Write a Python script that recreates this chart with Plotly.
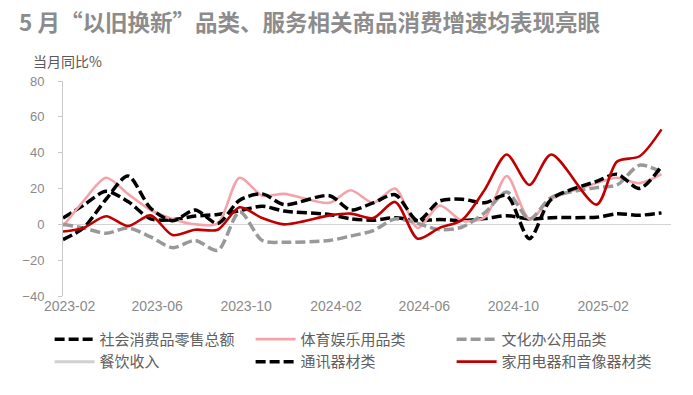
import plotly.graph_objects as go

months = ["2023-02", "2023-03", "2023-04", "2023-05", "2023-06", "2023-07", "2023-08",
          "2023-09", "2023-10", "2023-11", "2023-12",
          "2024-02", "2024-03", "2024-04", "2024-05", "2024-06", "2024-07", "2024-08",
          "2024-09", "2024-10", "2024-11", "2024-12",
          "2025-02", "2025-03", "2025-04", "2025-05"]

retail_total = [3.5, 10.6, 18.4, 12.7, 3.1, 2.5, 4.6, 5.5, 7.6, 10.1, 7.4,
                5.5, 3.1, 2.3, 3.7, 2.0, 2.7, 2.1, 3.2, 4.8, 3.0, 3.7,
                4.0, 5.9, 5.1, 6.4]
sports = [-1, 13, 26, 17, 8, 3, 0, 0.5, 26, 16, 17,
          12, 19, 12, 20, -2, 10.5, 2, 4, 27, 3, 14,
          23, 26, 23, 28]
office = [0, -2, -5, -2, -7, -13, -9, -14.5, 7, -9, -10,
          -9, -6.5, -3.5, 3, 0.5, -3, -1.5, 6.5, 18, 3, 15,
          20.5, 22, 33, 29]
catering = [None] * 26
telecom = [-8.5, -2, 14, 27, 9, 2, 8, 0.5, 13.5, 17, 11,
           16, 8, 12, 16.5, 2, 13, 14, 12, 16, -8, 14,
           24, 28, 20, 32.5]
appliance = [-4, -2, 4.5, -1, 5, -6, -3, -3, 9.5, 3.5, 0,
             5, 6, 3.5, 12.5, -8, -2, 2.5, 19.5, 39, 22, 39,
             11, 35, 38, 53]

tick_labels = ["2023-02", "2023-06", "2023-10", "2024-02", "2024-06", "2024-10", "2025-02"]

x_dates = [m + "-01" for m in months]

series = [
    ("社会消费品零售总额", retail_total, "#000000", "10px,4px", 3.5),
    ("体育娱乐用品类", sports, "#f4a3aa", "solid", 2.6),
    ("文化办公用品类", office, "#999999", "10px,4px", 3.5),
    ("餐饮收入", catering, "#d0d0d0", "solid", 3),
    ("通讯器材类", telecom, "#000000", "10px,4px", 3.5),
    ("家用电器和音像器材类", appliance, "#c00000", "solid", 2.6),
]

fig = go.Figure()
for name, vals, color, dash, w in series:
    fig.add_trace(go.Scatter(
        x=x_dates, y=vals, name=name, mode="lines",
        line=dict(color=color, dash=dash, width=w, shape="spline", smoothing=0.8),
    ))

x_tick_font = dict(family="Liberation Sans, Arial, sans-serif", size=14, color="#8a8a8a")
y_tick_font = dict(family="Liberation Sans, Arial, sans-serif", size=13, color="#8a8a8a")

fig.update_layout(
    width=693, height=395,
    margin=dict(l=63, r=22, t=81, b=99, autoexpand=False),
    plot_bgcolor="white", paper_bgcolor="white",
    showlegend=True,
    legend=dict(
        orientation="h", x=-0.022, y=-0.125, xanchor="left", yanchor="top",
        entrywidth=146, entrywidthmode="pixels", itemwidth=40,
        font=dict(family="Noto Sans CJK SC", size=15, color="#606060"),
        tracegroupgap=0, bgcolor="rgba(0,0,0,0)",
    ),
    xaxis=dict(
        type="date",
        range=["2023-02-01", "2025-05-14"],
        tickvals=[t + "-10" for t in tick_labels],
        ticktext=tick_labels,
        showgrid=False, showline=False, zeroline=False,
        ticks="", tickfont=x_tick_font,
    ),
    yaxis=dict(
        range=[-40, 80], dtick=20, tick0=0,
        showgrid=False, showline=True, linecolor="#c8c8c8", linewidth=1,
        ticks="outside", ticklen=4, tickcolor="#c8c8c8",
        ticklabelstandoff=11,
        zeroline=True, zerolinecolor="#d4d4d4", zerolinewidth=1.2,
        tickfont=y_tick_font,
    ),
    annotations=[
        dict(text="5 月“以旧换新”品类、服务相关商品消费增速均表现亮眼",
             xref="paper", yref="paper", x=-0.0755, y=1.279,
             xanchor="left", yanchor="middle", showarrow=False,
             font=dict(family="Noto Sans CJK SC", size=22.5, color="#8c8c8c", weight=700)),
        dict(text="当月同比%",
             xref="paper", yref="paper", x=-0.053, y=1.093,
             xanchor="left", yanchor="middle", showarrow=False,
             font=dict(family="Noto Sans CJK SC", size=14, color="#595959")),
    ],
)

fig.write_html("out.html", config={"displayModeBar": False},
               post_script="document.body.style.margin='0';")
